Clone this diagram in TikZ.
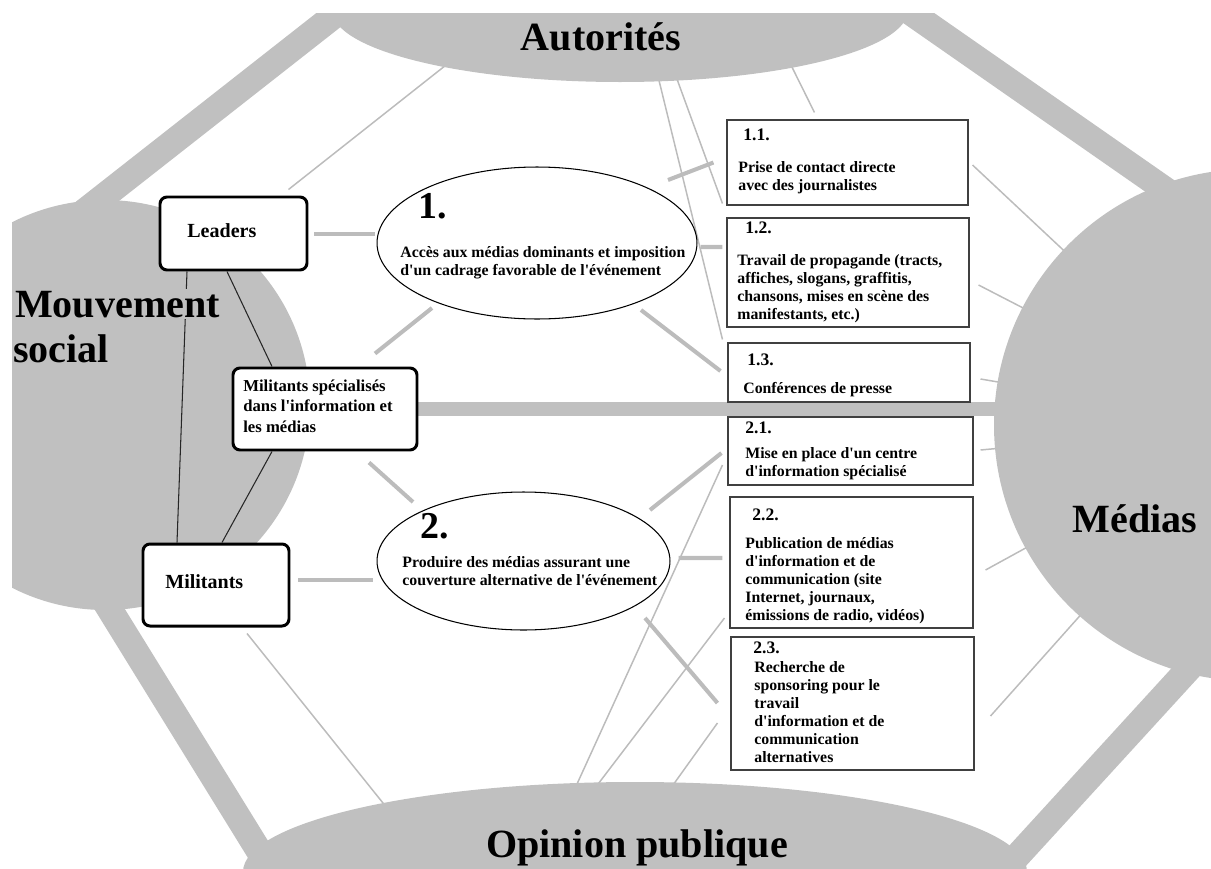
\documentclass[tikz,border=0pt]{standalone}
\usepackage{fontspec}
\setmainfont{Liberation Serif}
\usetikzlibrary{shapes.geometric,fit,calc}

\definecolor{zonegray}{RGB}{192,192,192}
\definecolor{wiregray}{RGB}{188,188,188}
\newcommand\pxl{0.02cm}
\newcommand\ap{\textquotesingle}
\pgfdeclarelayer{back}
\pgfsetlayers{back,main}

\begin{document}
\begin{tikzpicture}[x=\pxl,y=-\pxl,
  zone/.style={fill=zonegray},
  band/.style={draw=zonegray,line width=14.8pt},
  wire/.style={draw=wiregray,line width=0.85pt},
  link/.style={draw=wiregray,line width=2.3pt},
  tie/.style={draw=black!85,line width=0.6pt},
  actor/.style={draw=black,line width=1.7pt,rounded corners=4pt,fill=white,inner sep=0pt},
  topic/.style={draw=black!75,line width=0.6pt,fill=white,inner sep=0pt},
  axe/.style={ellipse,draw=black,line width=0.6pt,fill=white,inner sep=0pt},
  big/.style={font=\fontsize{22.8}{25.6}\selectfont\bfseries,inner sep=0pt},
  lab/.style={font=\fontsize{11.4}{13}\selectfont\bfseries,anchor=base west,inner sep=0pt},
  txt/.style={font=\fontsize{9}{10.24}\selectfont\bfseries,align=left,anchor=base west,inner sep=0pt},
  num/.style={font=\fontsize{10}{12}\selectfont\bfseries,anchor=base west,inner sep=0pt}]

\useasboundingbox (0,0) rectangle (1211,869);

% actors of the movement (text nodes sit on the baseline of their last line)
\node[actor,fit={(160,197) (307,270)}] (lead) {};
\node[actor,fit={(233,368) (417,450)}] (ms) {};
\node[actor,fit={(143,544) (289,626)}] (mil) {};
\node[lab] (leadtxt) at (187,237) {Leaders};
\node[txt,font=\fontsize{9.5}{11.4}\selectfont\bfseries] (mstxt) at (243,432)
  {Militants spécialisés\\dans l\ap information et\\les médias};
\node[lab] (miltxt) at (165,588) {Militants};

% the two strategies
\node[axe,minimum width=6.4cm,minimum height=3.04cm] (e1) at (537,243) {};
\node[axe,minimum width=5.86cm,minimum height=2.76cm] (e2) at (523.5,561) {};
\node[num,font=\fontsize{21.6}{24}\selectfont\bfseries] (n1) at (418,218) {1.};
\node[txt] (e1txt) at (400,275) {Accès aux médias dominants et imposition\\d\ap un cadrage favorable de l\ap événement};
\node[num,font=\fontsize{21.6}{24}\selectfont\bfseries] (n2) at (420,538) {2.};
\node[txt] (e2txt) at (402,585) {Produire des médias assurant une\\couverture alternative de l\ap événement};

% actions
\node[topic,fit={(727,120) (968,205)}] (t11) {};
\node[topic,fit={(727,218) (969,327)}] (t12) {};
\node[topic,fit={(728,343) (970,402)}] (t13) {};
\node[topic,fit={(728,417) (973,485)}] (t21) {};
\node[topic,fit={(730,497) (973,628)}] (t22) {};
\node[topic,fit={(731,637) (974,770)}] (t23) {};
\node[num] (n11) at (743,140) {1.1.};
\node[txt] (t11txt) at (738,190) {Prise de contact directe\\avec des journalistes};
\node[num] (n12) at (745,233) {1.2.};
\node[txt] (t12txt) at (737,319) {Travail de propagande (tracts,\\affiches, slogans, graffitis,\\chansons, mises en scène des\\manifestants, etc.)};
\node[num] (n13) at (747,365) {1.3.};
\node[txt] (t13txt) at (743,393) {Conférences de presse};
\node[num] (n21) at (745,433) {2.1.};
\node[txt] (t21txt) at (745,476) {Mise en place d\ap un centre\\d\ap information spécialisé};
\node[num] (n22) at (752,520) {2.2.};
\node[txt] (t22txt) at (745,620) {Publication de médias\\d\ap information et de\\communication (site\\Internet, journaux,\\émissions de radio, vidéos)};
\node[num] (n23) at (753,653) {2.3.};
\node[txt] (t23txt) at (754,762) {Recherche de\\sponsoring pour le\\travail\\d\ap information et de\\communication\\alternatives};

% ties inside the movement
\draw[tie] ($(lead.south)+(-46.5,0)$) -- ($(mil.north)+(-39,0)$);
\draw[tie] ($(lead.south)+(-6.5,0)$) -- ($(ms.north)+(-53,0)$);
\draw[tie] ($(ms.south)+(-53,0)$) -- ($(mil.north)+(6,0)$);

% pole labels
\node[big,anchor=base west,fill=zonegray,inner sep=1pt] (mvt1) at (13,317) {Mouvement};
\node[big,anchor=base west] (mvt2) at (13,362) {social};
\node[big,anchor=base] (auttxt) at (601,50) {Autorités};
\node[big,anchor=base] (medtxt) at (1135,532) {Médias};
\node[big,anchor=base] (opitxt) at (637,857) {Opinion publique};

\begin{pgfonlayer}{back}
\begin{scope}
\clip (12,13) rectangle (1211,869);
\coordinate (aut) at (620,10);
\coordinate (mvt) at (105,405);
\coordinate (med) at (1250,425);
\coordinate (opi) at (635,872);
% frame
\draw[band] (354,0) -- (80,215);
\draw[band] (900,5) -- (1190,207);
\draw[band] (104,600) -- (280,885);
\draw[band] (1215,640) -- (1000,875);
\draw[band,line width=8.5pt] (ms.east) -- (ms.east -| med);
% free ends in the poles
\coordinate (aw) at (460,54);
\coordinate (ab) at (654,60);
\coordinate (ac) at (670,60);
\coordinate (ad) at (786,55);
\coordinate (o1) at (395,818);
\coordinate (o2) at (572,795);
\coordinate (o3) at (592,792);
\coordinate (o4) at (668,792);
\draw[wire] (aw) -- ($(lead.north east)+(-20,-6)$);
\draw[wire] (ab) -- ($(t13.north west)+(-5,-3)$);
\draw[wire] (ac) -- ($(t11.south west)+(-4,-2)$);
\draw[wire] (ad) -- ($(t11.north west)+(88,-7)$);
\draw[wire] ($(t11.east)+(4,2.5)$) -- (med);
\draw[wire] ($(t12.east)+(9,12.5)$) -- (med);
\draw[wire] ($(t13.east)+(10,6.5)$) -- (med);
\draw[wire] ($(t21.east)+(7,-1)$) -- (med);
\draw[wire] ($(t22.east)+(12,7.5)$) -- (med);
\draw[wire] ($(t23.east)+(16,12.5)$) -- (med);
\draw[wire] ($(mil.south)+(31,6)$) -- (o1);
\draw[wire] ($(t21.west)+(-5,14)$) -- (o2);
\draw[wire] ($(t22.west)+(-5,55.5)$) -- (o3);
\draw[wire] ($(t23.west)+(-13,19.5)$) -- (o4);
% links to the strategies
\draw[link] ($(lead.east)+(6,0.5)$) -- ($(e1.west)+(-2,-9)$);
\draw[link] ($(e1.center)+(131,-63)$) -- ($(t11.west)+(-13,0)$);
\draw[link] ($(e1.east)+(3,4)$) -- ($(t12.west)+(-4,-25.5)$);
\draw[link] ($(e1.center)+(104,67)$) -- ($(t13.west)+(-7,-1.5)$);
\draw[link] ($(e1.center)+(-105,65)$) -- ($(ms.north)+(50,-13)$);
\draw[link] ($(ms.south)+(44,11)$) -- ($(e2.center)+(-110.5,-59)$);
\draw[link] ($(e2.center)+(126.5,-51)$) -- ($(t21.west)+(-6,2)$);
\draw[link] ($(e2.east)+(8,-3)$) -- ($(t22.west)+(-7,-4.5)$);
\draw[link] ($(mil.east)+(8,-5)$) -- ($(e2.west)+(-4,19)$);
\draw[link] ($(e2.center)+(121.5,57)$) -- ($(t23.west)+(-13,-0.5)$);
% the four poles
\fill[zone] (aut) ellipse [x radius=288,y radius=72];
\fill[zone] (mvt) circle [radius=205];
\fill[zone] (med) circle [radius=256];
\fill[zone] (opi) ellipse [x radius=392,y radius=90];
\end{scope}
\end{pgfonlayer}
\end{tikzpicture}
\end{document}
